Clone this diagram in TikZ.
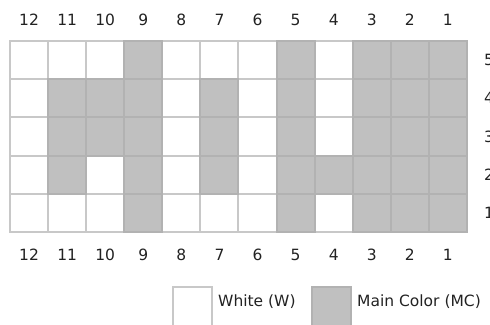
\documentclass[tikz,border=0pt]{standalone}
\usepackage{fontspec}
\setmainfont{DejaVu Sans}
\definecolor{mc}{HTML}{C0C0C0}
\definecolor{wline}{HTML}{C8C8C8}
\definecolor{gline}{HTML}{B2B2B2}
\definecolor{txt}{HTML}{222222}
\begin{document}
\begin{tikzpicture}[x=1pt,y=-1pt,
  lbl/.style={font=\fontsize{15.5}{18}\selectfont, text=txt, inner sep=0pt},
  wcell/.style={fill=white, draw=wline, line width=2pt},
  gcell/.style={fill=mc, draw=gline, line width=2pt}]
\useasboundingbox (0,0) rectangle (490,324);
\def\cw{38.08}
\def\ch{38.2}
\def\gx{10}
\def\gy{41}
% white background cells
\foreach \r in {0,...,4}{
  \foreach \c in {0,...,11}{
    \draw[wcell] ({\gx+\c*\cw},{\gy+\r*\ch}) rectangle ++(\cw,\ch);
  }
}
% main colour cells (column index 0 = column 12, row index 0 = row 5)
\foreach \c/\r in {3/0,7/0,9/0,10/0,11/0,
  1/1,2/1,3/1,5/1,7/1,9/1,10/1,11/1,
  1/2,2/2,3/2,5/2,7/2,9/2,10/2,11/2,
  1/3,3/3,5/3,7/3,8/3,9/3,10/3,11/3,
  3/4,7/4,9/4,10/4,11/4}{
  \draw[gcell] ({\gx+\c*\cw},{\gy+\r*\ch}) rectangle ++(\cw,\ch);
}
% column labels
\foreach \n [count=\c from 0] in {12,11,10,9,8,7,6,5,4,3,2,1}{
  \node[lbl] (top\n) at ({\gx+(\c+0.5)*\cw},20) {\n};
  \node[lbl] (bot\n) at ({\gx+(\c+0.5)*\cw},255) {\n};
}
% row labels
\foreach \n [count=\r from 0] in {5,4,3,2,1}{
  \node[lbl,anchor=west] (row\n) at (484,{\gy+(\r+0.5)*\ch}) {\n};
}
% legend
\draw[wcell] (173,287) rectangle (212,326);
\node[lbl,anchor=west] (legW) at (218,302) {White (W)};
\draw[gcell] (312,287) rectangle (351,326);
\node[lbl,anchor=west] (legMC) at (357,302) {Main Color (MC)};
\end{tikzpicture}
\end{document}
